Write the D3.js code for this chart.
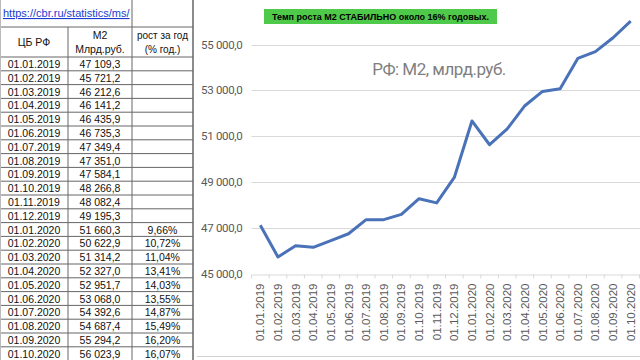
<!DOCTYPE html>
<html><head><meta charset="utf-8">
<script src="https://cdn.jsdelivr.net/npm/d3@7"></script>
<style>body{margin:0;background:#fff}svg{display:block}</style>
</head><body>
<svg id="c" width="640" height="360"></svg>
<script>
const dates = ["01.01.2019","01.02.2019","01.03.2019","01.04.2019","01.05.2019","01.06.2019","01.07.2019","01.08.2019","01.09.2019","01.10.2019","01.11.2019","01.12.2019","01.01.2020","01.02.2020","01.03.2020","01.04.2020","01.05.2020","01.06.2020","01.07.2020","01.08.2020","01.09.2020","01.10.2020"];
const m2 = [47109.3,45721.2,46212.6,46141.2,46435.9,46735.3,47349.4,47351.0,47584.1,48266.8,48082.4,49195.3,51660.3,50622.9,51314.2,52327.0,52951.7,53068.0,54392.6,54687.4,55294.2,56023.9];
const growth = ["","","","","","","","","","","","","9,66%","10,72%","11,04%","13,41%","14,03%","13,55%","14,87%","15,49%","16,20%","16,07%"];
const yTicks = [45000,47000,49000,51000,53000,55000];
const urlText = "https://cbr.ru/statistics/ms/";
const headers = [["ЦБ РФ"],["М2","Млрд.руб."],["рост за год","(% год.)"]];
const chartTitle = "РФ: М2, млрд.руб.";
const note = "Темп роста М2 СТАБИЛЬНО около 16% годовых.";

const svg = d3.select("#c");
const ru = d3.formatLocale({decimal:",",thousands:"\u00a0",grouping:[3],currency:["",""]});
const fmt = ru.format(",.1f");

// ---- table ----
const colX = [0,68,132,193];
const urlH = 27, headTop = 27, headBot = 57, rowH = 13.8;
const tbl = svg.append("g").attr("font-family","'Liberation Sans',Arial,sans-serif").attr("font-size","10.5px").attr("fill","#111");
const lc = "#666";
tbl.append("line").attr("x1",0).attr("x2",colX[3]).attr("y1",urlH).attr("y2",urlH).attr("stroke",lc);
tbl.append("line").attr("x1",0).attr("x2",colX[3]).attr("y1",headBot).attr("y2",headBot).attr("stroke",lc);
dates.forEach((d,i)=>{
  const y = headBot + rowH*(i+1);
  tbl.append("line").attr("x1",0).attr("x2",colX[3]).attr("y1",y).attr("y2",y).attr("stroke",lc);
});
tbl.append("line").attr("x1",0.5).attr("x2",0.5).attr("y1",0).attr("y2",360).attr("stroke","#bbb");
tbl.append("line").attr("x1",colX[1]).attr("x2",colX[1]).attr("y1",headTop).attr("y2",360).attr("stroke",lc);
tbl.append("line").attr("x1",colX[2]).attr("x2",colX[2]).attr("y1",0).attr("y2",360).attr("stroke",lc);
tbl.append("line").attr("x1",colX[3]).attr("x2",colX[3]).attr("y1",0).attr("y2",360).attr("stroke",lc).attr("stroke-width",1.5);
tbl.append("text").attr("x",3).attr("y",17).attr("fill","#1a3bd0").attr("text-decoration","underline").attr("font-size","11px").text(urlText);
headers.forEach((h,ci)=>{
  const cx = (colX[ci]+colX[ci+1])/2;
  h.forEach((t,j)=>{
    const y = h.length===1 ? 46 : 39 + j*14;
    tbl.append("text").attr("x",cx).attr("y",y).attr("text-anchor","middle")
      .attr("font-size", ci===2 ? "10px" : null).text(t);
  });
});
dates.forEach((d,i)=>{
  const y = headBot + rowH*i + rowH/2 + 4;
  const cells = [d, fmt(m2[i]), growth[i]];
  cells.forEach((t,ci)=>{
    tbl.append("text").attr("x",(colX[ci]+colX[ci+1])/2).attr("y",y).attr("text-anchor","middle").text(t);
  });
});

// ---- chart ----
const x = d3.scaleBand().domain(dates).range([251.5,639.5]);
const y = d3.scaleLinear().domain([45000,55000]).range([273.5,44.5]);
const ch = svg.append("g");
ch.append("line").attr("x1",197).attr("x2",640).attr("y1",356.5).attr("y2",356.5).attr("stroke","#d0d0d0");
ch.append("g").selectAll("line").data(yTicks.slice(1)).join("line")
  .attr("x1",251.5).attr("x2",640).attr("y1",d=>Math.round(y(d))+0.5).attr("y2",d=>Math.round(y(d))+0.5)
  .attr("stroke","#d9d9d9");
const yAxis = d3.axisLeft(y).tickValues(yTicks).tickFormat(fmt).tickSize(0).tickPadding(9);
const ya = ch.append("g").attr("transform","translate(251.5,0)").call(yAxis);
ya.select(".domain").remove();
ya.selectAll("text").attr("font-family","Roboto,'Liberation Sans',sans-serif").attr("font-size","11.5px").attr("fill","#595959").attr("letter-spacing","-0.3px");
const xAxis = d3.axisBottom(x).tickSizeInner(0).tickSizeOuter(0);
const xa = ch.append("g").attr("transform",`translate(0,${Math.round(y(45000))+0.5})`).call(xAxis);
xa.select(".domain").attr("stroke","#d9d9d9");
xa.selectAll("text").attr("font-family","'Liberation Sans',Arial,sans-serif").attr("font-size","11.5px").attr("fill","#595959")
  .attr("transform","rotate(-90)").attr("text-anchor","end").attr("x",0).attr("y",0)
  .attr("dx",-9).attr("dy","0.35em");
xa.append("g").selectAll("line").data(d3.range(dates.length+1)).join("line")
  .attr("x1",i=>251.5+i*x.step()).attr("x2",i=>251.5+i*x.step()).attr("y1",0).attr("y2",4).attr("stroke","#d9d9d9");
const line = d3.line().x(d=>x(d[0])+x.bandwidth()/2).y(d=>y(d[1]));
ch.append("path").datum(dates.map((d,i)=>[d,m2[i]])).attr("d",line)
  .attr("fill","none").attr("stroke","#4a72b8").attr("stroke-width",3).attr("stroke-linejoin","round");
ch.append("text").attr("x",439).attr("y",75).attr("text-anchor","middle")
  .attr("font-family","Roboto,'Liberation Sans',sans-serif").attr("font-size","17px").attr("letter-spacing","-0.5px").attr("fill","#7f7f7f").text(chartTitle);
ch.append("rect").attr("x",264).attr("y",9).attr("width",233).attr("height",15).attr("fill","#4ec94a");
ch.append("text").attr("x",380.5).attr("y",19.8).attr("text-anchor","middle")
  .attr("font-family","'Liberation Sans',Arial,sans-serif").attr("font-weight","bold").attr("font-size","9px").attr("fill","#000").text(note);
</script>
</body></html>
